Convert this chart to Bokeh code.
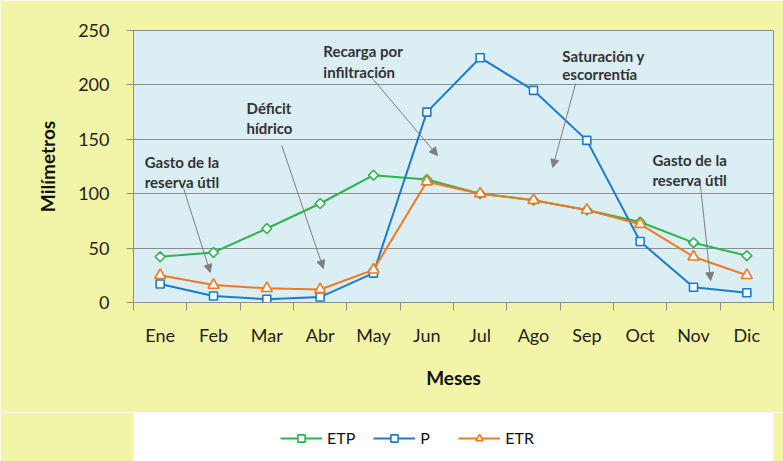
import math
from bokeh.plotting import figure
from bokeh.layouts import column
from bokeh.models import (Range1d, FixedTicker, Legend, LegendItem, Label, Arrow, NormalHead)
from bokeh.embed import file_html
from bokeh.resources import INLINE

months = ["Ene", "Feb", "Mar", "Abr", "May", "Jun", "Jul", "Ago", "Sep", "Oct", "Nov", "Dic"]
etp = [42, 46, 68, 91, 117, 113, 100, 94, 85, 74, 55, 43]
prec = [17, 6, 3, 5, 27, 175, 225, 195, 149, 56, 14, 9]
etr = [25, 16, 13, 12, 30, 111, 100, 94, 85, 72, 42, 25]
y_ticks = [0, 50, 100, 150, 200, 250]

# annotation texts (two lines each), anchors in data units
notes = [
    (["Gasto de la", "reserva útil"], 0.21, [128.7, 110.3], (0.94, 104.8), (1.44, 27.6)),
    (["Déficit", "hídrico"], 2.12, [179.2, 160.0], (2.78, 144.3), (3.56, 31.3)),
    (["Recarga por", "infiltración"], 3.56, [231.0, 212.3], (4.48, 205.9), (5.70, 135.1)),
    (["Saturación y", "escorrentía"], 8.04, [227.0, 209.6], (8.29, 201.3), (7.86, 124.1)),
    (["Gasto de la", "reserva útil"], 9.73, [131.1, 113.0], (10.63, 107.5), (10.82, 20.2)),
]

xs = [i + 0.5 for i in range(len(months))]

FONT = "Lato"
GREEN = "#2DB34F"
BLUE = "#1C7CCB"
ORANGE = "#F07A22"
GRID = "#8C8C8C"
YELLOW = "#F2F5A8"
PLOTBG = "#DAEEF3"

p = figure(width=783, height=412, output_backend="svg", toolbar_location=None,
           x_range=Range1d(0, 12), y_range=Range1d(0, 250),
           min_border_left=133, min_border_top=30, min_border_right=10, min_border_bottom=110)
p.background_fill_color = PLOTBG
p.border_fill_color = YELLOW
p.outline_line_color = GRID
p.outline_line_width = 1

p.xgrid.grid_line_color = None
p.ygrid.grid_line_color = GRID
p.ygrid.grid_line_width = 1

# y axis
p.yaxis.ticker = FixedTicker(ticks=y_ticks)
p.yaxis.axis_line_color = GRID
p.yaxis.major_tick_line_color = GRID
p.yaxis.major_tick_out = 7
p.yaxis.major_tick_in = 0
p.yaxis.minor_tick_line_color = None
p.yaxis.major_label_standoff = 17
p.yaxis.major_label_text_font = FONT
p.yaxis.major_label_text_font_size = "18px"
p.yaxis.major_label_text_color = "#222222"
p.yaxis.axis_label = "Milímetros"
p.yaxis.axis_label_text_font = FONT
p.yaxis.axis_label_text_font_size = "19px"
p.yaxis.axis_label_text_font_style = "bold"
p.yaxis.axis_label_text_color = "#111111"
p.yaxis.axis_label_standoff = 16

# x axis
p.xaxis.ticker = FixedTicker(ticks=xs, minor_ticks=list(range(0, 13)))
p.xaxis.major_label_overrides = {x: m for x, m in zip(xs, months)}
p.xaxis.axis_line_color = GRID
p.xaxis.major_tick_line_color = None
p.xaxis.major_tick_out = 0
p.xaxis.major_tick_in = 0
p.xaxis.minor_tick_line_color = GRID
p.xaxis.minor_tick_out = 8
p.xaxis.minor_tick_in = 0
p.xaxis.major_label_standoff = 13
p.xaxis.major_label_text_font = FONT
p.xaxis.major_label_text_font_size = "18px"
p.xaxis.major_label_text_color = "#222222"
p.xaxis.axis_label = "Meses"
p.xaxis.axis_label_text_font = FONT
p.xaxis.axis_label_text_font_size = "19px"
p.xaxis.axis_label_text_font_style = "bold"
p.xaxis.axis_label_text_color = "#111111"
p.xaxis.axis_label_standoff = 17

# arrows + annotation text
for lines, lx, lys, (x0, y0), (x1, y1) in notes:
    p.add_layout(Arrow(x_start=x0, y_start=y0, x_end=x1, y_end=y1,
                       line_color="#7F7F7F", line_width=1,
                       end=NormalHead(size=8, fill_color="#7F7F7F", line_color="#7F7F7F")))
    for t, ly in zip(lines, lys):
        p.add_layout(Label(x=lx, y=ly, text=t, text_font=FONT, text_font_size="15px",
                           text_font_style="bold", text_color="#333333",
                           text_baseline="alphabetic", text_align="left"))

series = [("ETP", etp, GREEN, "square", 7, math.pi / 4),
          ("P", prec, BLUE, "square", 8, 0.0),
          ("ETR", etr, ORANGE, "triangle", 11, 0.0)]

# legend strip below the chart (its own renderers sit outside its visible range)
p2 = figure(width=783, height=49, output_backend="svg", toolbar_location=None,
            x_range=Range1d(100, 101), y_range=Range1d(0, 1),
            x_axis_type=None, y_axis_type=None,
            min_border_left=133, min_border_right=10, min_border_top=0, min_border_bottom=0)
p2.background_fill_color = None
p2.border_fill_color = YELLOW
p2.outline_line_color = None

items = []
for name, vals, col, mk, sz, ang in series:
    p.line(xs, vals, line_color=col, line_width=2)
    p.scatter(xs, vals, marker=mk, size=sz, angle=ang, line_color=col,
              line_width=1.6, fill_color="white")
    ln2 = p2.line(xs, vals, line_color=col, line_width=2)
    sc2 = p2.scatter(xs, vals, marker=mk, size=sz, angle=ang, line_color=col,
                     line_width=1.6, fill_color="white")
    items.append(LegendItem(label=name, renderers=[ln2, sc2]))

legend = Legend(items=items, orientation="horizontal", location=(147, 14),
                label_text_font=FONT, label_text_font_size="16px", label_text_color="#111111",
                glyph_width=42, glyph_height=18, label_standoff=5, spacing=18,
                background_fill_alpha=0, border_line_color=None, margin=0, padding=4)
p2.add_layout(legend)

open("out.html", "w").write(file_html(column(p, p2, spacing=0), INLINE))
